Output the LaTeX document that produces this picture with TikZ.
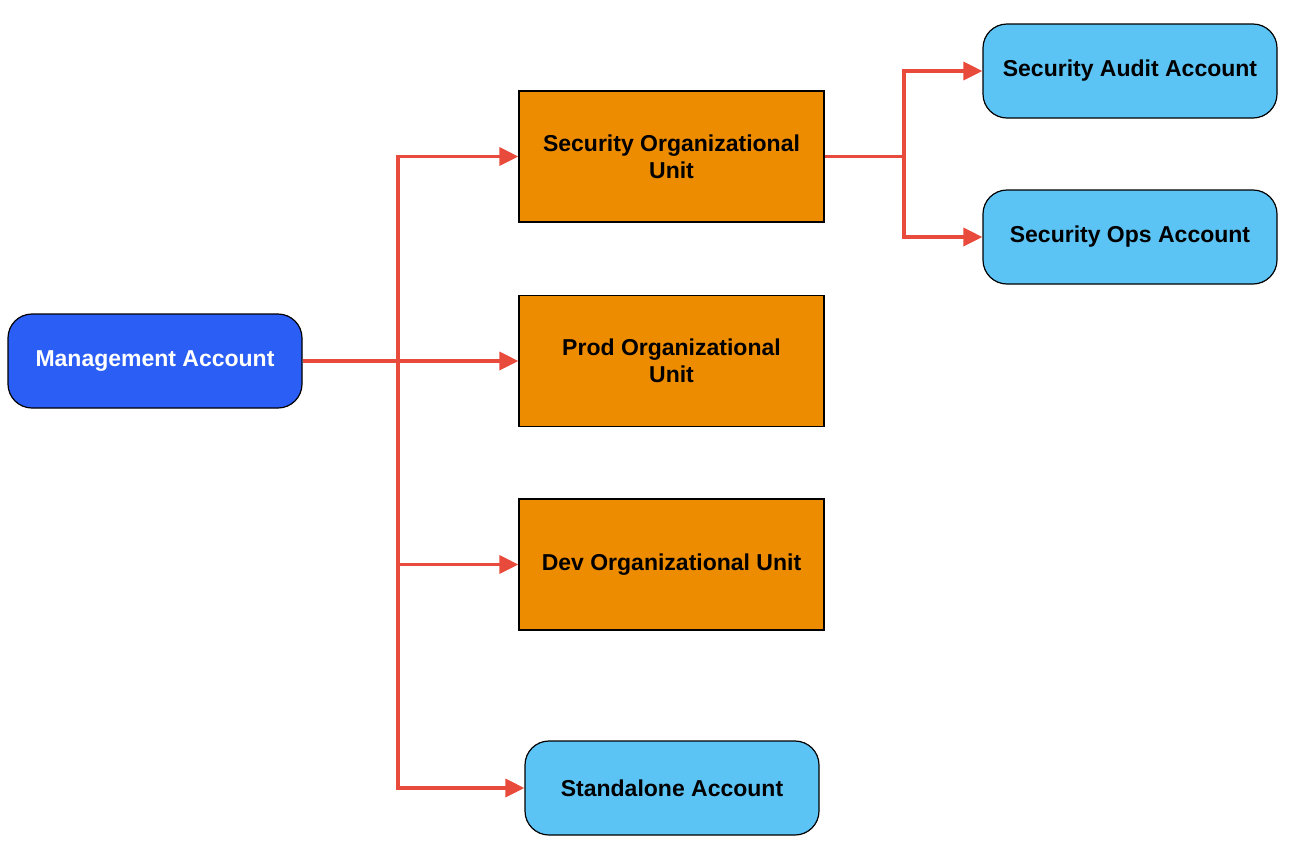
\documentclass[tikz,border=0pt]{standalone}
\usepackage{fontspec}
\setmainfont{Liberation Sans}
\usetikzlibrary{arrows.meta}

\definecolor{mgmtblue}{RGB}{42,94,245}
\definecolor{ouorange}{RGB}{238,140,0}
\definecolor{acctblue}{RGB}{91,196,245}
\definecolor{linkred}{RGB}{232,74,60}

\tikzset{
  account/.style={draw=black, line width=0.6pt, rounded corners=12pt,
    minimum width=147pt, minimum height=47pt, align=center,
    font=\fontsize{11.5}{13.5}\selectfont\bfseries},
  orgunit/.style={draw=black, line width=0.6pt, fill=ouorange,
    minimum width=152.5pt, minimum height=65.5pt, align=center,
    font=\fontsize{11.5}{13.5}\selectfont\bfseries},
  link/.style={draw=linkred, line width=1.7pt,
    -{Triangle[length=9.5pt,width=9pt]}}
}

\begin{document}
\begin{tikzpicture}[x=0.5pt,y=-0.5pt]
  \useasboundingbox (0,0) rectangle (1292,853);

  \node[account, fill=mgmtblue, text=white] (mgmt) at (155,361) {Management Account};

  \node[orgunit] (secou)  at (671.5,156.5) {Security Organizational\\Unit};
  \node[orgunit] (prodou) at (671.5,361) {Prod Organizational\\Unit};
  \node[orgunit] (devou)  at (671.5,564.5) {Dev Organizational Unit};

  \node[account, fill=acctblue] (alone) at (672,788)  {Standalone Account};
  \node[account, fill=acctblue] (audit) at (1130,71)  {Security Audit Account};
  \node[account, fill=acctblue] (ops)   at (1130,237) {Security Ops Account};

  \coordinate (trunk) at (398,361);
  \coordinate (fork)  at (904,156.5);

  \begin{scope}[line join=miter]
    \draw[link] (mgmt.east) -- (prodou.west);
    \draw[link] (trunk) |- (secou.west);
    \draw[link] (trunk) |- (devou.west);
    \draw[link] (trunk) |- (alone.west);
  \end{scope}
  \begin{scope}[line join=miter]
    \draw[draw=linkred, line width=1.7pt] (secou.east) -- (fork);
    \draw[link] (fork) |- (audit.west);
    \draw[link] (fork) |- (ops.west);
  \end{scope}
\end{tikzpicture}
\end{document}
